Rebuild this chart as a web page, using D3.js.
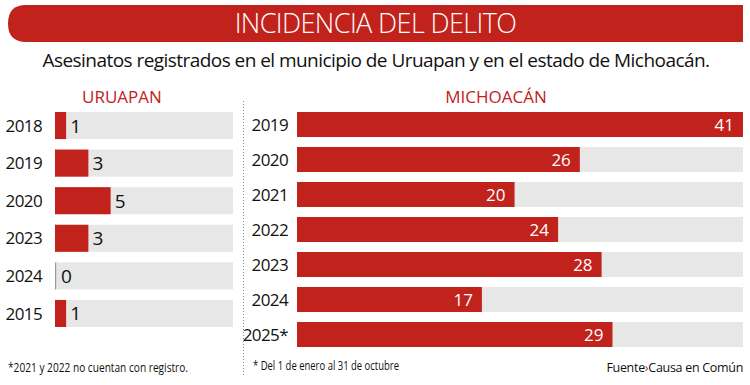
<!DOCTYPE html>
<html>
<head>
<meta charset="utf-8">
<script src="https://cdn.jsdelivr.net/npm/d3@7"></script>
<style>
  html, body { margin: 0; padding: 0; background: #fff; }
  svg { display: block; font-family: "Open Sans", "Noto Sans", sans-serif; }
</style>
</head>
<body>
<svg id="chart" width="750" height="385"></svg>
<script>
// ---- data ----
const title = "INCIDENCIA DEL DELITO";
const subtitle = "Asesinatos registrados en el municipio de Uruapan y en el estado de Michoacán.";
const leftTitle = "URUAPAN";
const rightTitle = "MICHOACÁN";
const uruapanYears = ["2018", "2019", "2020", "2023", "2024", "2015"];
const uruapanValues = [1, 3, 5, 3, 0, 1];
const michoacanYears = ["2019", "2020", "2021", "2022", "2023", "2024", "2025*"];
const michoacanValues = [41, 26, 20, 24, 28, 17, 29];
const noteLeft = "*2021 y 2022 no cuentan con registro.";
const noteRight = "* Del 1 de enero al 31 de octubre";
const sourceLabel = "Fuente";
const sourceName = "Causa en Común";

const RED = "#c1221b";
const TRACK = "#e7e7e7";

const svg = d3.select("#chart");

// ---- header ----
const hx = 8, hy = 5, hw = 735, hh = 37, r = 18;
svg.append("path")
  .attr("d", `M${hx + r},${hy} H${hx + hw} V${hy + hh} H${hx + r} Q${hx},${hy + hh} ${hx},${hy + hh / 2} Q${hx},${hy} ${hx + r},${hy} Z`)
  .attr("fill", RED);
svg.append("text")
  .attr("x", 375.5).attr("y", 33).attr("text-anchor", "middle")
  .attr("font-size", 27).attr("font-weight", 300).attr("fill", "#fff")
  .attr("letter-spacing", -0.6)
  .text(title);
svg.append("text")
  .attr("x", 376).attr("y", 67).attr("text-anchor", "middle")
  .attr("font-size", 19).attr("fill", "#111")
  .attr("letter-spacing", -0.55)
  .text(subtitle);

// ---- left panel: Uruapan ----
const L = { x0: 55, w: 178, top: 112, bottom: 327 };
const xL = d3.scaleLinear().domain([0, 16]).range([0, L.w]);
const yL = d3.scaleBand().domain(uruapanYears).range([L.top, L.bottom]).paddingInner(0.28).paddingOuter(0);

svg.append("text").attr("x", 122).attr("y", 103).attr("text-anchor", "middle")
  .attr("font-size", 17).attr("fill", RED).text(leftTitle);

const gL = svg.append("g");
const rowsL = gL.selectAll("g.row").data(uruapanYears.map((y, i) => ({ year: y, v: uruapanValues[i] })))
  .join("g").attr("class", "row");
rowsL.append("rect").attr("x", L.x0).attr("y", d => yL(d.year))
  .attr("width", L.w).attr("height", yL.bandwidth()).attr("fill", TRACK);
rowsL.append("rect").attr("x", L.x0).attr("y", d => yL(d.year))
  .attr("width", 1.2).attr("height", yL.bandwidth()).attr("fill", "#9a9a9a");
rowsL.append("rect").attr("x", L.x0).attr("y", d => yL(d.year))
  .attr("width", d => xL(d.v)).attr("height", yL.bandwidth()).attr("fill", RED);
rowsL.append("text").attr("x", 42).attr("y", d => yL(d.year) + yL.bandwidth() / 2)
  .attr("dy", "0.36em").attr("text-anchor", "end").attr("font-size", 17).attr("fill", "#111")
  .attr("letter-spacing", -0.6)
  .text(d => d.year);
rowsL.append("text").attr("x", d => L.x0 + xL(d.v) + (d.v === 0 ? 6 : 4))
  .attr("y", d => yL(d.year) + yL.bandwidth() / 2)
  .attr("dy", "0.37em").attr("font-size", 19).attr("fill", "#111")
  .text(d => d.v);

svg.append("text").attr("x", 8).attr("y", 372)
  .attr("textLength", 180).attr("lengthAdjust", "spacingAndGlyphs")
  .attr("font-size", 12).attr("fill", "#111").text(noteLeft);

// ---- separator ----
svg.append("line").attr("x1", 243.5).attr("x2", 243.5).attr("y1", 101).attr("y2", 376)
  .attr("stroke", "#8a8a8a").attr("stroke-width", 1).attr("stroke-dasharray", "1,2");

// ---- right panel: Michoacán ----
const R = { x0: 297, w: 446, top: 112, bottom: 347 };
const xR = d3.scaleLinear().domain([0, 41]).range([0, R.w]);
const yR = d3.scaleBand().domain(michoacanYears).range([R.top, R.bottom]).paddingInner(0.286).paddingOuter(0);

svg.append("text").attr("x", 496).attr("y", 103).attr("text-anchor", "middle")
  .attr("font-size", 17).attr("fill", RED).text(rightTitle);

const gR = svg.append("g");
const rowsR = gR.selectAll("g.row").data(michoacanYears.map((y, i) => ({ year: y, v: michoacanValues[i] })))
  .join("g").attr("class", "row");
rowsR.append("rect").attr("x", R.x0).attr("y", d => yR(d.year))
  .attr("width", R.w).attr("height", yR.bandwidth()).attr("fill", TRACK);
rowsR.append("rect").attr("x", R.x0).attr("y", d => yR(d.year))
  .attr("width", d => xR(d.v)).attr("height", yR.bandwidth()).attr("fill", RED);
rowsR.append("text").attr("x", 288).attr("y", d => yR(d.year) + yR.bandwidth() / 2)
  .attr("dy", "0.36em").attr("text-anchor", "end").attr("font-size", 17).attr("fill", "#111")
  .attr("letter-spacing", -0.6)
  .text(d => d.year);
rowsR.append("text").attr("x", d => R.x0 + xR(d.v) - 9)
  .attr("y", d => yR(d.year) + yR.bandwidth() / 2)
  .attr("dy", "0.36em").attr("text-anchor", "end").attr("font-size", 17).attr("fill", "#fff")
  .text(d => d.v);

svg.append("text").attr("x", 253).attr("y", 370)
  .attr("textLength", 146).attr("lengthAdjust", "spacingAndGlyphs")
  .attr("font-size", 12).attr("fill", "#111").text(noteRight);

const src = svg.append("text").attr("x", 743).attr("y", 372).attr("text-anchor", "end")
  .attr("font-size", 12.5).attr("letter-spacing", -0.3).attr("fill", "#111");
src.append("tspan").text(sourceLabel);
src.append("tspan").attr("fill", RED).text("›");
src.append("tspan").text(sourceName);
</script>
</body>
</html>
